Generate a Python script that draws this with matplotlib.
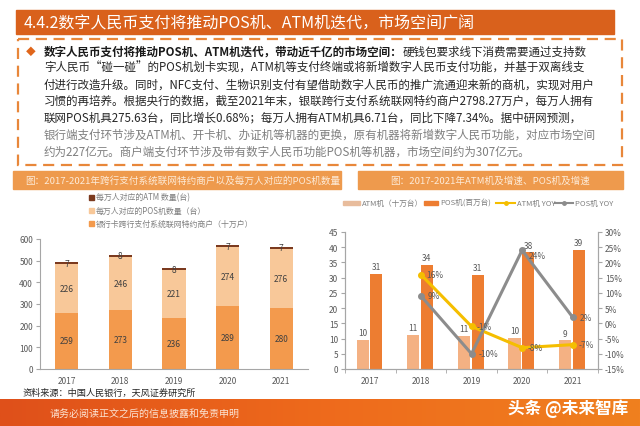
import matplotlib
matplotlib.use("Agg")
import matplotlib.pyplot as plt
import numpy as np
from matplotlib.patches import Rectangle
from matplotlib.colors import LinearSegmentedColormap

plt.rcParams['font.family'] = ['Noto Sans CJK SC', 'DejaVu Sans']

W, H = 640, 427

# left chart: stacked bars
years = ["2017", "2018", "2019", "2020", "2021"]
merchants = [259, 273, 236, 289, 280]     # 银行卡跨行支付系统联网特约商户（十万户）
pos_per_10k = [226, 246, 221, 274, 276]   # 每万人对应的POS机数量（台）
atm_per_10k = [7, 8, 8, 7, 7]             # 每万人对应的ATM 数量(台)

# right chart: bars + yoy lines
atm_units = [9.6, 11.1, 11.0, 10.1, 9.4]   # ATM机（十万台）
pos_units = [31.3, 34.1, 31.0, 38.3, 39.0]  # POS机(百万台)
atm_yoy = [np.nan, 16, -1, -8, -7]
pos_yoy = [np.nan, 9, -10, 24, 2]

title = "4.4.2数字人民币支付将推动POS机、ATM机迭代，市场空间广阔"
lead = "数字人民币支付将推动POS机、ATM机迭代，带动近千亿的市场空间："
body = [
    "硬钱包要求线下消费需要通过支持数",
    "字人民币“碰一碰”的POS机划卡实现，ATM机等支付终端或将新增数字人民币支付功能，并基于双离线支",
    "付进行改造升级。同时，NFC支付、生物识别支付有望借助数字人民币的推广流通迎来新的商机，实现对用户",
    "习惯的再培养。根据央行的数据，截至2021年末，银联跨行支付系统联网特约商户2798.27万户，每万人拥有",
    "联网POS机具275.63台，同比增长0.68%；每万人拥有ATM机具6.71台，同比下降7.34%。据中研网预测，",
    "银行端支付环节涉及ATM机、开卡机、办证机等机器的更换，原有机器将新增数字人民币功能，对应市场空间",
    "约为227亿元。商户端支付环节涉及带有数字人民币功能POS机等机器，市场空间约为307亿元。",
]
body_y = [52, 68, 85, 101, 118, 135, 152]


def box(x0, y0, x1, y1):
    return [x0 / W, 1 - y1 / H, (x1 - x0) / W, (y1 - y0) / H]


fig = plt.figure(figsize=(6.4, 4.27), dpi=100)

bg = fig.add_axes([0, 0, 1, 1])
bg.set_xlim(0, W)
bg.set_ylim(H, 0)
bg.axis('off')

# title bar
bg.add_patch(Rectangle((16, 11), 598, 24, color='#D9611C'))
bg.text(24, 23.5, title, color='white', fontsize=11.5, va='center')

# dashed text box
bg.add_patch(Rectangle((18, 40), 604, 126, fill=False, edgecolor='#E8873A',
                       lw=1.6, linestyle=(0, (5, 3))))
bg.text(26, body_y[0], "◆", color='#E0661B', fontsize=7, va='center')
t_lead = bg.text(44, body_y[0], lead, fontsize=8.3, fontweight='bold',
                 color='#1a1a1a', va='center')
bg.annotate(body[0], xy=(1, 0.5), xycoords=t_lead, fontsize=8.3,
            color='#262626', va='center')
for i in range(1, len(body)):
    col = '#262626' if i < 5 else '#7f7f7f'
    bg.text(44, body_y[i], body[i], fontsize=8.3, color=col, va='center')

# chart headers
bg.add_patch(Rectangle((13, 172), 328, 18, color='#EE9A4D'))
bg.text(25, 181, "图：2017-2021年跨行支付系统联网特约商户以及每万人对应的POS机数量",
        color='#FDEBD8', fontsize=6.9, va='center')
bg.add_patch(Rectangle((358, 172), 265, 18, color='#EE9A4D'))
bg.text(490, 181, "图：2017-2021年ATM机及增速、POS机及增速",
        color='#FDEBD8', fontsize=6.9, va='center', ha='center')

# left legend
c_merch, c_pos, c_atm = '#F39A4D', '#F8C899', '#7B3A1F'
leg_left = [("每万人对应的ATM 数量(台)", c_atm),
            ("每万人对应的POS机数量（台）", c_pos),
            ("银行卡跨行支付系统联网特约商户（十万户）", c_merch)]
for k, (lab, c) in enumerate(leg_left):
    yy = 198 + 13 * k
    bg.add_patch(Rectangle((89, yy - 2.5), 5, 5, color=c))
    bg.text(96, yy, lab, fontsize=5.7, color='#7f7f7f', va='center')

# right legend
c_atmu, c_posu = '#F4B183', '#ED7D31'
c_yel, c_gry = '#F5BE00', '#8C8C8C'
bg.add_patch(Rectangle((343, 202), 17, 4, color='#E8BC9C'))
bg.text(362, 204, "ATM机（十万台）", fontsize=5.5, color='#7f7f7f', va='center')
bg.add_patch(Rectangle((424, 202), 14, 4, color=c_posu))
bg.text(440, 204, "POS机(百万台)", fontsize=5.5, color='#7f7f7f', va='center')
bg.plot([496, 515], [204, 204], color=c_yel, lw=1.5)
bg.plot([505.5], [204], 'o', color=c_yel, ms=2.5)
bg.text(517, 204, "ATM机 YOY", fontsize=5.5, color='#7f7f7f', va='center')
bg.plot([555, 573], [204, 204], color=c_gry, lw=1.5)
bg.plot([564], [204], 'o', color=c_gry, ms=2.5)
bg.text(575, 204, "POS机 YOY", fontsize=5.5, color='#7f7f7f', va='center')

# source
bg.text(23, 393, "资料来源：中国人民银行，天风证券研究所", fontsize=6.6,
        color='#262626', va='center')

# footer
grad = np.linspace(0, 1, 256).reshape(1, -1)
cm = LinearSegmentedColormap.from_list('f', ['#DF501A', '#EE6A1C', '#F0801F'])
bg.imshow(grad, cmap=cm, extent=(0, W, 427, 400), aspect='auto', zorder=1)
bg.set_xlim(0, W)
bg.set_ylim(H, 0)
bg.text(50, 414, "请务必阅读正文之后的信息披露和免责申明", fontsize=7.2,
        color='#FBE3D2', va='center', zorder=2)
bg.text(508, 409, "头条 @未来智库", fontsize=12, color='white',
        fontweight='bold', va='center', zorder=2)

tick_col = '#595959'
spine_col = '#A6A6A6'
x = np.arange(len(years))

# ---------- left chart ----------
axL = fig.add_axes(box(40, 240, 308, 370))
bw = 0.43
b1 = axL.bar(x, merchants, bw, color=c_merch)
b2 = axL.bar(x, pos_per_10k, bw, bottom=merchants, color=c_pos)
b3 = axL.bar(x, atm_per_10k, bw, bottom=np.add(merchants, pos_per_10k),
             color=c_atm)
for cont in (b1, b2, b3):
    axL.bar_label(cont, label_type='center', fontsize=6, color='#404040')
axL.set_xlim(-0.5, 4.5)
axL.set_ylim(0, 600)
axL.set_yticks(range(0, 601, 100))
axL.set_xticks(x)
axL.set_xticklabels(years)
for s in ('top', 'right'):
    axL.spines[s].set_visible(False)
for s in ('left', 'bottom'):
    axL.spines[s].set_color(spine_col)
    axL.spines[s].set_linewidth(0.8)
axL.tick_params(axis='y', labelsize=6, colors=tick_col, length=3,
                color=spine_col, pad=2)
axL.tick_params(axis='x', labelsize=6, colors=tick_col, length=0, pad=5)
axL.set_facecolor('none')

# ---------- right chart ----------
axR = fig.add_axes(box(345, 233, 598, 370))
ba = axR.bar(x - 0.15, atm_units, 0.24, color=c_atmu)
bp = axR.bar(x + 0.12, pos_units, 0.24, color=c_posu)
axR.bar_label(ba, fmt='%.0f', padding=2, fontsize=6, color=tick_col)
axR.bar_label(bp, fmt='%.0f', padding=2, fontsize=6, color=tick_col)
axR.set_xlim(-0.5, 4.5)
axR.set_ylim(0, 45)
axR.set_yticks(range(0, 46, 5))
axR.set_xticks(x)
axR.set_xticklabels(years)
axR.set_xticks(np.arange(-0.5, 5, 1), minor=True)
axR.spines['top'].set_visible(False)
for s in ('left', 'bottom', 'right'):
    axR.spines[s].set_color(spine_col)
    axR.spines[s].set_linewidth(0.8)
axR.tick_params(axis='y', labelsize=6, colors=tick_col, length=3,
                color=spine_col, pad=2)
axR.tick_params(axis='x', which='major', labelsize=6, colors=tick_col,
                length=0, pad=5)
axR.tick_params(axis='x', which='minor', length=3, color=spine_col)
axR.set_facecolor('none')

axR2 = axR.twinx()
axR2.set_ylim(-15, 30)
axR2.set_yticks(range(-15, 31, 5))
axR2.set_yticklabels([f"{v}%" for v in range(-15, 31, 5)])
axR2.spines['top'].set_visible(False)
for s in ('left', 'bottom', 'right'):
    axR2.spines[s].set_color(spine_col)
    axR2.spines[s].set_linewidth(0.8)
axR2.tick_params(axis='y', labelsize=6, colors=tick_col, length=3,
                 color=spine_col, pad=2)
axR2.plot(x, atm_yoy, color=c_yel, lw=2.2, marker='o', ms=4)
axR2.plot(x, pos_yoy, color=c_gry, lw=2.2, marker='o', ms=4)
for i in range(1, len(years)):
    axR2.annotate(f"{atm_yoy[i]:.0f}%", (i, atm_yoy[i]), xytext=(4, 0),
                  textcoords='offset points', va='center', fontsize=6,
                  color=tick_col)
    dy = -4 if i == 3 else 0
    axR2.annotate(f"{pos_yoy[i]:.0f}%", (i, pos_yoy[i]), xytext=(5, dy),
                  textcoords='offset points', va='center', fontsize=6,
                  color=tick_col)

fig.savefig("out.png", dpi=100)
